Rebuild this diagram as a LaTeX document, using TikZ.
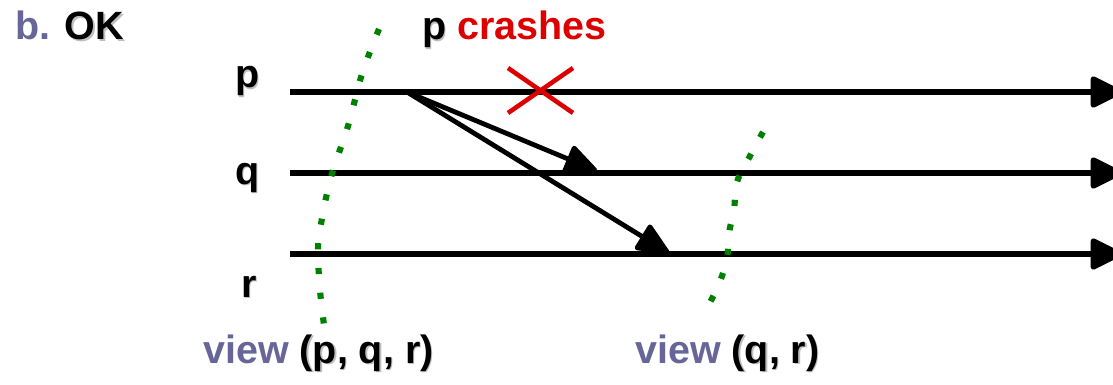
\documentclass[tikz,border=0pt]{standalone}
\usepackage{fontspec}
\setmainfont{Liberation Sans}
\usetikzlibrary{arrows.meta}
\definecolor{viewblue}{RGB}{102,102,153}
\definecolor{crashred}{RGB}{220,0,0}
\definecolor{cutgreen}{RGB}{0,128,0}
\newcommand{\shd}[1]{\makebox[0pt][l]{\kern1.1pt\raisebox{-1.1pt}{\textcolor{black!25}{#1}}}#1}

\begin{document}
\begin{tikzpicture}[x=0.75pt, y=-0.75pt,
  proc/.style={line width=3.9pt, -{Triangle[length=26pt, width=25pt, round]}},
  msg/.style={line width=3.6pt, -{Triangle[length=27pt, width=23pt, round]}},
  cut/.style={cutgreen, line width=4.6pt, dash pattern=on 4.6pt off 14pt},
  txt/.style={anchor=base west, inner sep=0pt, font=\fontsize{29.6}{32}\selectfont\bfseries},
]
\useasboundingbox (0,0) rectangle (1113,385);

%---------------------------------------
% Process lines
%---------------------------------------
\def\xs{290}
\def\xe{1122}
\def\yp{92}
\def\yq{173}
\def\yr{254}

\coordinate (p0) at (\xs,\yp);  \coordinate (p1) at (\xe,\yp);
\coordinate (q0) at (\xs,\yq);  \coordinate (q1) at (\xe,\yq);
\coordinate (r0) at (\xs,\yr);  \coordinate (r1) at (\xe,\yr);

\draw[proc] (p0) -- (p1);
\draw[proc] (q0) -- (q1);
\draw[proc] (r0) -- (r1);

\node[txt] (plbl) at (235,88)  {\shd{p}};
\node[txt] (qlbl) at (235,184) {\shd{q}};
\node[txt] (rlbl) at (241,297) {\shd{r}};

% ---- Messages sent by p ----
\coordinate (m0) at (407,\yp);
\coordinate (mq) at (597,171);
\coordinate (mr) at (669,253);
\draw[msg] (m0) -- (mq);
\draw[msg] (m0) -- (mr);

% ---- Crash of p ----
\coordinate (x1) at (508,68);  \coordinate (x2) at (573,113);
\coordinate (x3) at (573,68);  \coordinate (x4) at (508,113);
\draw[crashred, line width=3.4pt] (x1) -- (x2);
\draw[crashred, line width=3.4pt] (x3) -- (x4);

% ---- Views (cuts) ----
\draw[cut] plot[smooth, tension=0.6] coordinates
  {(379,29) (362,74) (348,126) (331,177) (321,224) (318,250) (320,290) (324,325)};
\draw[cut] plot[smooth, tension=0.6] coordinates
  {(763,132) (750,156) (737,182) (734,210) (729,233) (727,258) (719,284) (707,308)};

% Labels
\node[txt] (title) at (15,40)  {\textcolor{viewblue}{b.} \shd{OK}};
\node[txt] (crash) at (422,40) {\shd{p} \textcolor{crashred}{crashes}};
\node[txt] (view1) at (203,363) {\textcolor{viewblue}{view} \shd{(p, q, r)}};
\node[txt] (view2) at (635,363) {\textcolor{viewblue}{view} \shd{(q, r)}};
\end{tikzpicture}
\end{document}
